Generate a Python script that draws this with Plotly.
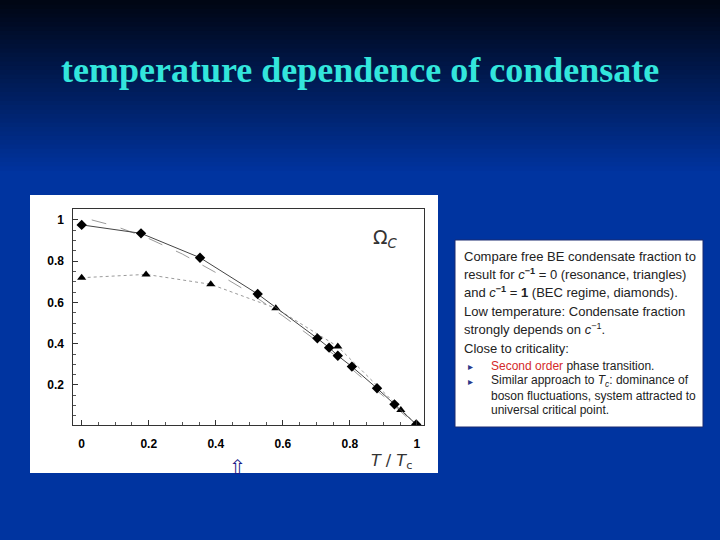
import plotly.graph_objects as go

# ---- data ----
t_diamond = [0.0, 0.177, 0.353, 0.525, 0.703, 0.738, 0.764, 0.806, 0.881, 0.933, 0.998]
omega_diamond = [0.976, 0.935, 0.817, 0.641, 0.426, 0.381, 0.342, 0.289, 0.184, 0.106, 0.009]

t_triangle = [0.0, 0.192, 0.385, 0.579, 0.764, 0.952, 1.0]
omega_triangle = [0.720, 0.736, 0.688, 0.572, 0.386, 0.079, 0.005]

t_free = [0.03, 0.1, 0.2, 0.3, 0.4, 0.5, 0.6, 0.7, 0.8, 0.9, 1.0]
omega_free = [1.0, 0.97, 0.91, 0.835, 0.745, 0.648, 0.535, 0.415, 0.285, 0.146, 0.0]

x_ticks = [0, 0.2, 0.4, 0.6, 0.8, 1]
x_ticklabels = ["0", "0.2", "0.4", "0.6", "0.8", "1"]
y_ticks = [0.2, 0.4, 0.6, 0.8, 1]
y_ticklabels = ["0.2", "0.4", "0.6", "0.8", "1"]

text_lines = [
    "Compare free BE condensate fraction to",
    "result for <i>c</i><sup><b>−1</b></sup> = 0 (resonance, triangles)",
    "and <i>c</i><sup><b>−1</b></sup> = <b>1</b> (BEC regime, diamonds).",
    "Low temperature: Condensate fraction",
    "strongly depends on <i>c</i><sup>−1</sup>.",
    "Close to criticality:",
]
bullet_lines = [
    "<span style='color:#d42a2a'>Second order</span> phase transition.",
    "Similar approach to <i>T<sub>c</sub></i>: dominance of",
    "boson fluctuations, system attracted to",
    "universal critical point.",
]

W, H = 720, 540
fig = go.Figure()

fig.add_trace(go.Scatter(x=t_free, y=omega_free, mode="lines",
                         line=dict(color="#9a9a9a", width=1, dash="longdash"),
                         showlegend=False, hoverinfo="skip"))
fig.add_trace(go.Scatter(x=t_triangle, y=omega_triangle, mode="lines+markers",
                         line=dict(color="#9a9a9a", width=1, dash="dot"),
                         marker=dict(symbol="triangle-up", size=8, color="black"),
                         showlegend=False))
fig.add_trace(go.Scatter(x=t_diamond, y=omega_diamond, mode="lines+markers",
                         line=dict(color="#444444", width=1),
                         marker=dict(symbol="diamond", size=8, color="black"),
                         showlegend=False))

shapes = []
# background gradient (decorative)
top = (0, 6, 20)
bot = (0, 52, 160)
nb = 40
grad_h = 175
for i in range(nb):
    f = i / (nb - 1)
    c = tuple(int(top[k] + (bot[k] - top[k]) * f) for k in range(3))
    y0 = i * grad_h / nb
    y1 = (i + 1) * grad_h / nb + 1
    shapes.append(dict(type="rect", xref="paper", yref="paper", layer="below",
                       x0=0, x1=1, y0=1 - y1 / H, y1=1 - y0 / H,
                       fillcolor="rgb(%d,%d,%d)" % c, line=dict(width=0)))
# white chart panel
shapes.append(dict(type="rect", xref="paper", yref="paper", layer="below",
                   x0=30 / W, x1=438 / W, y0=1 - 473 / H, y1=1 - 195 / H,
                   fillcolor="white", line=dict(width=0)))
# white text panel
shapes.append(dict(type="rect", xref="paper", yref="paper", layer="below",
                   x0=455 / W, x1=703 / W, y0=1 - 427 / H, y1=1 - 240 / H,
                   fillcolor="white", line=dict(color="#1a2a70", width=1)))

annotations = []
annotations.append(dict(text="<b>temperature dependence of condensate</b>",
                        xref="paper", yref="paper", x=0.5, y=1 - 70 / H,
                        showarrow=False, xanchor="center", yanchor="middle",
                        font=dict(family="Liberation Serif", size=36, color="#33e6dc")))
annotations.append(dict(text="Ω<sub><i>C</i></sub>", xref="paper", yref="paper",
                        x=385 / W, y=1 - 238 / H, showarrow=False,
                        font=dict(family="DejaVu Sans", size=19, color="#333333")))
annotations.append(dict(text="<i>T</i> / <i>T</i><sub>c</sub>", xref="paper", yref="paper",
                        x=392 / W, y=1 - 474 / H, showarrow=False,
                        font=dict(family="DejaVu Sans", size=16, color="#333333")))
annotations.append(dict(text="⇧", xref="paper", yref="paper",
                        x=227 / W, y=1 - 481 / H, showarrow=False,
                        font=dict(family="DejaVu Sans", size=20, color="#1a1a8a")))

ys = [257, 274, 292, 312, 329, 348]
for s, yy in zip(text_lines, ys):
    annotations.append(dict(text=s, xref="paper", yref="paper", x=462 / W, y=1 - yy / H,
                            showarrow=False, xanchor="left", yanchor="middle",
                            font=dict(family="Liberation Sans", size=13, color="#222222")))
bys = [366, 381, 396, 410]
for i, (s, yy) in enumerate(zip(bullet_lines, bys)):
    if i < 2:
        annotations.append(dict(text="▸", xref="paper", yref="paper", x=466 / W, y=1 - yy / H,
                                showarrow=False, xanchor="left", yanchor="middle",
                                font=dict(family="DejaVu Sans", size=10, color="#2a3a8a")))
    annotations.append(dict(text=s, xref="paper", yref="paper", x=489 / W, y=1 - yy / H,
                            showarrow=False, xanchor="left", yanchor="middle",
                            font=dict(family="Liberation Sans", size=12, color="#222222")))

fig.update_layout(
    width=W, height=H, margin=dict(l=0, r=0, t=0, b=0),
    paper_bgcolor="rgb(0,52,160)", plot_bgcolor="white",
    shapes=shapes, annotations=annotations,
    xaxis=dict(domain=[73.3 / W, 424.3 / W], range=[-0.025, 1.022],
               tickvals=x_ticks, ticktext=x_ticklabels,
               showgrid=False, zeroline=False, showline=True, linecolor="#333", linewidth=1,
               mirror=True, ticks="inside", ticklen=5, tickcolor="#333",
               minor=dict(dtick=0.05, ticks="inside", ticklen=3, tickcolor="#555"),
               ticklabelstandoff=8,
               tickfont=dict(family="Liberation Sans", size=12, color="black", weight="bold")),
    yaxis=dict(domain=[1 - 425 / H, 1 - 209 / H], range=[0.006, 1.053],
               tickvals=y_ticks, ticktext=y_ticklabels,
               showgrid=False, zeroline=False, showline=True, linecolor="#333", linewidth=1,
               mirror=True, ticks="inside", ticklen=5, tickcolor="#333",
               minor=dict(dtick=0.05, ticks="inside", ticklen=3, tickcolor="#555"),
               ticklabelstandoff=6,
               tickfont=dict(family="Liberation Sans", size=12, color="black", weight="bold")),
)

fig.write_html("out.html", config={"displayModeBar": False},
               post_script="document.body.style.margin='0px';")
